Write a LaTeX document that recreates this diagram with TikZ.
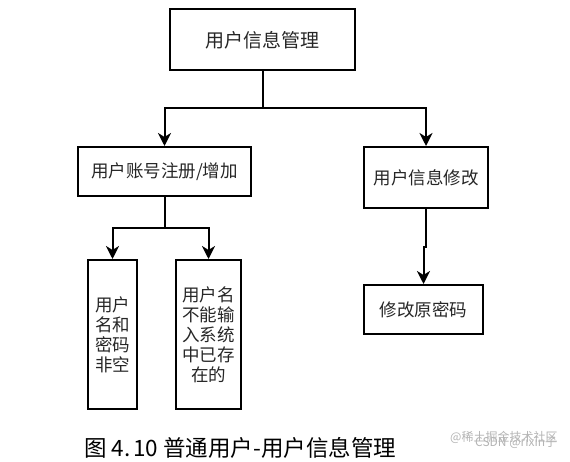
\documentclass[tikz,border=0pt]{standalone}
\usepackage{fontspec}
\setmainfont{Noto Sans CJK SC}
\usetikzlibrary{arrows.meta}
\definecolor{txt}{HTML}{262626}
\definecolor{wm}{HTML}{B4B4B4}
\begin{document}
\begin{tikzpicture}[x=1pt,y=-1pt,
  box/.style={draw=black, line width=2pt, inner sep=0pt, align=center, text=txt,
    font=\fontsize{17.5}{20}\selectfont},
  conn/.style={line width=2pt},
  arr/.style={line width=2pt, -{Stealth[length=13pt,width=13pt,inset=4pt]}},
  wmark/.style={text=wm, inner sep=0pt, anchor=west, font=\fontsize{12}{12}\selectfont}]
\useasboundingbox (0,0) rectangle (570,462);
\node[box, minimum width=185pt, minimum height=61pt, font=\fontsize{19}{19}\selectfont] (top) at (262.5,40) {用户信息管理};
\node[box, minimum width=173pt, minimum height=49pt] (reg) at (164.5,171.5) {用户账号注册/增加};
\node[box, minimum width=124pt, minimum height=61pt] (mod) at (426,177.5) {用户信息修改};
\node[box, minimum width=119pt, minimum height=49pt] (pwd) at (423.5,309.5) {修改原密码};
\node[box, minimum width=49pt, minimum height=149pt] (a) at (112.5,334.5) {用户\\名和\\密码\\非空};
\node[box, minimum width=65pt, minimum height=149pt] (b) at (208.5,334.5) {用户名\\不能输\\入系统\\中已存\\在的};
\coordinate (j1) at (262.5,108);
\coordinate (j2) at (164.5,228);
\draw[conn] (top.south) -- (j1);
\draw[arr] (j1) -| (reg.north);
\draw[arr] (j1) -| (mod.north);
\draw[conn] (reg.south) -- (j2);
\draw[arr] (j2) -| (a.north);
\draw[arr] (j2) -| (b.north);
\draw[arr] (mod.south) -- ++(0,38) -| (pwd.north);
\node[anchor=west, inner sep=0pt, text=black, font=\fontsize{22.5}{22.5}\selectfont] (cap) at (84,448) {图 4.\hspace{3pt}10 普通用户-用户信息管理};
\node[wmark] (wm1) at (450,437) {@稀土掘金技术社区};
\node[wmark] (wm2) at (475,443) {CSDN @rixin子};
\end{tikzpicture}
\end{document}
